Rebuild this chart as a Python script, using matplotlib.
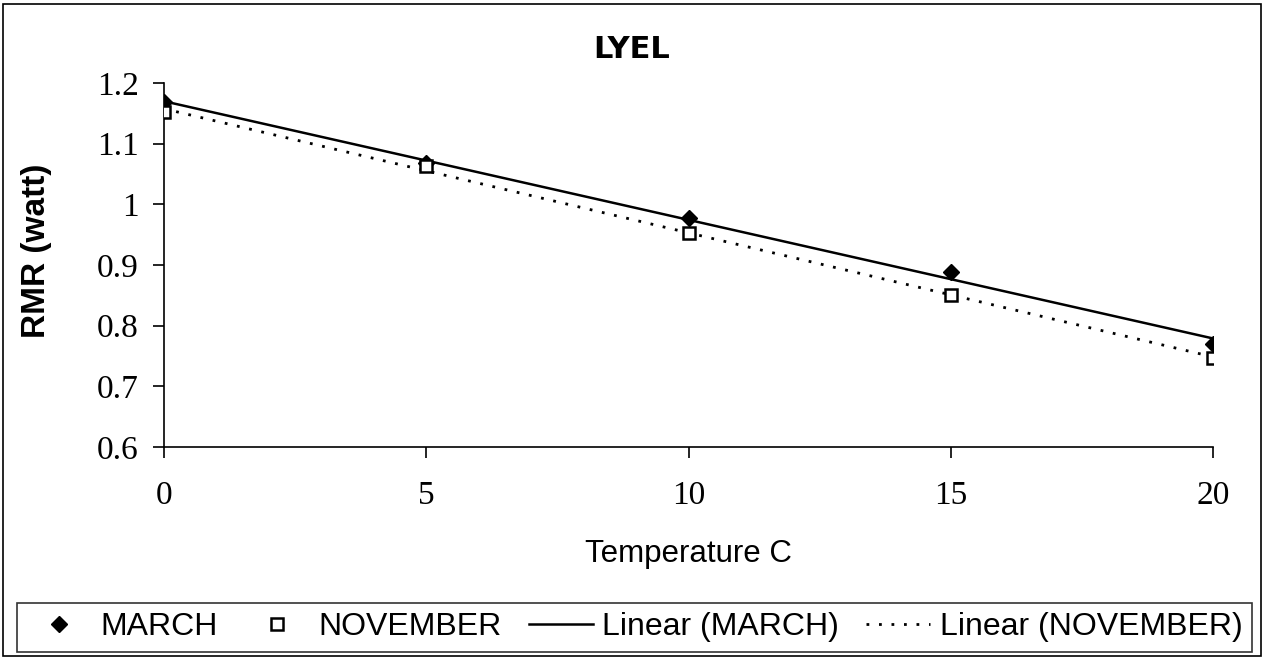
import numpy as np
import matplotlib.pyplot as plt
from matplotlib.patches import Rectangle

# data
temps = [0, 5, 10, 15, 20]
march = [1.169, 1.068, 0.977, 0.888, 0.770]
november = [1.152, 1.063, 0.953, 0.850, 0.747]
yticks = [0.6, 0.7, 0.8, 0.9, 1.0, 1.1, 1.2]
yticklabels = ['0.6', '0.7', '0.8', '0.9', '1', '1.1', '1.2']

sans = 'Liberation Sans'
serif = 'Liberation Serif'

fig = plt.figure(figsize=(12.65, 6.59), dpi=100)
ax = fig.add_axes([0.1296, 0.3217, 0.8296, 0.5523])

t = np.array(temps, dtype=float)
xx = np.linspace(0, 20, 50)
pm = np.polyfit(t, march, 1)
pn = np.polyfit(t, november, 1)

m1, = ax.plot(t, march, linestyle='none', marker='D', markersize=8,
              color='black', label='MARCH')
m2, = ax.plot(t, november, linestyle='none', marker='s', markersize=9,
              markerfacecolor='white', markeredgecolor='black',
              markeredgewidth=1.8, label='NOVEMBER')
l1, = ax.plot(xx, np.polyval(pm, xx), color='black', linewidth=1.8,
              label='Linear (MARCH)')
l2, = ax.plot(xx, np.polyval(pn, xx), color='black', linewidth=2.0,
              linestyle=(0, (1, 3.5)), label='Linear (NOVEMBER)')
for h in (m1, m2):
    h.set_zorder(5)

ax.set_xlim(0, 20)
ax.set_ylim(0.6, 1.2)
ax.set_xticks([0, 5, 10, 15, 20])
ax.set_yticks(yticks)
ax.set_yticklabels(yticklabels)
for lab in ax.get_xticklabels() + ax.get_yticklabels():
    lab.set_fontfamily(serif)
    lab.set_fontsize(24)
ax.tick_params(direction='out', length=8, width=1.2, pad=10)
ax.tick_params(axis='x', pad=16)
for s in ['top', 'right']:
    ax.spines[s].set_visible(False)
for s in ['left', 'bottom']:
    ax.spines[s].set_linewidth(1.2)

fig.text(632 / 1265, 1 - 50 / 659, 'LYEL', fontfamily='DejaVu Sans',
         fontweight='bold', fontsize=22, ha='center', va='center')
ax.set_xlabel('Temperature C', fontfamily=sans, fontsize=22.5, labelpad=20)
ax.set_ylabel('RMR (watt)', fontfamily=sans, fontweight='bold', fontsize=24)
ax.yaxis.set_label_coords(-0.107, 0.54)

leg = fig.legend(handles=[m1, m2, l1, l2], ncol=4, loc='lower left',
                 bbox_to_anchor=(17 / 1265, 7 / 659, 1235 / 1265, 52 / 659),
                 mode='expand', frameon=True, fancybox=False,
                 edgecolor='black', prop={'family': sans, 'size': 23},
                 handlelength=2.0, handletextpad=0.3, borderaxespad=0,
                 borderpad=0.3)
leg.get_frame().set_linewidth(1.2)

fig.patches.append(Rectangle((3 / 1265, 3 / 659), 1258 / 1265, 652 / 659,
                             transform=fig.transFigure, fill=False,
                             edgecolor='black', linewidth=1.2))

fig.savefig('out.png', dpi=100)
